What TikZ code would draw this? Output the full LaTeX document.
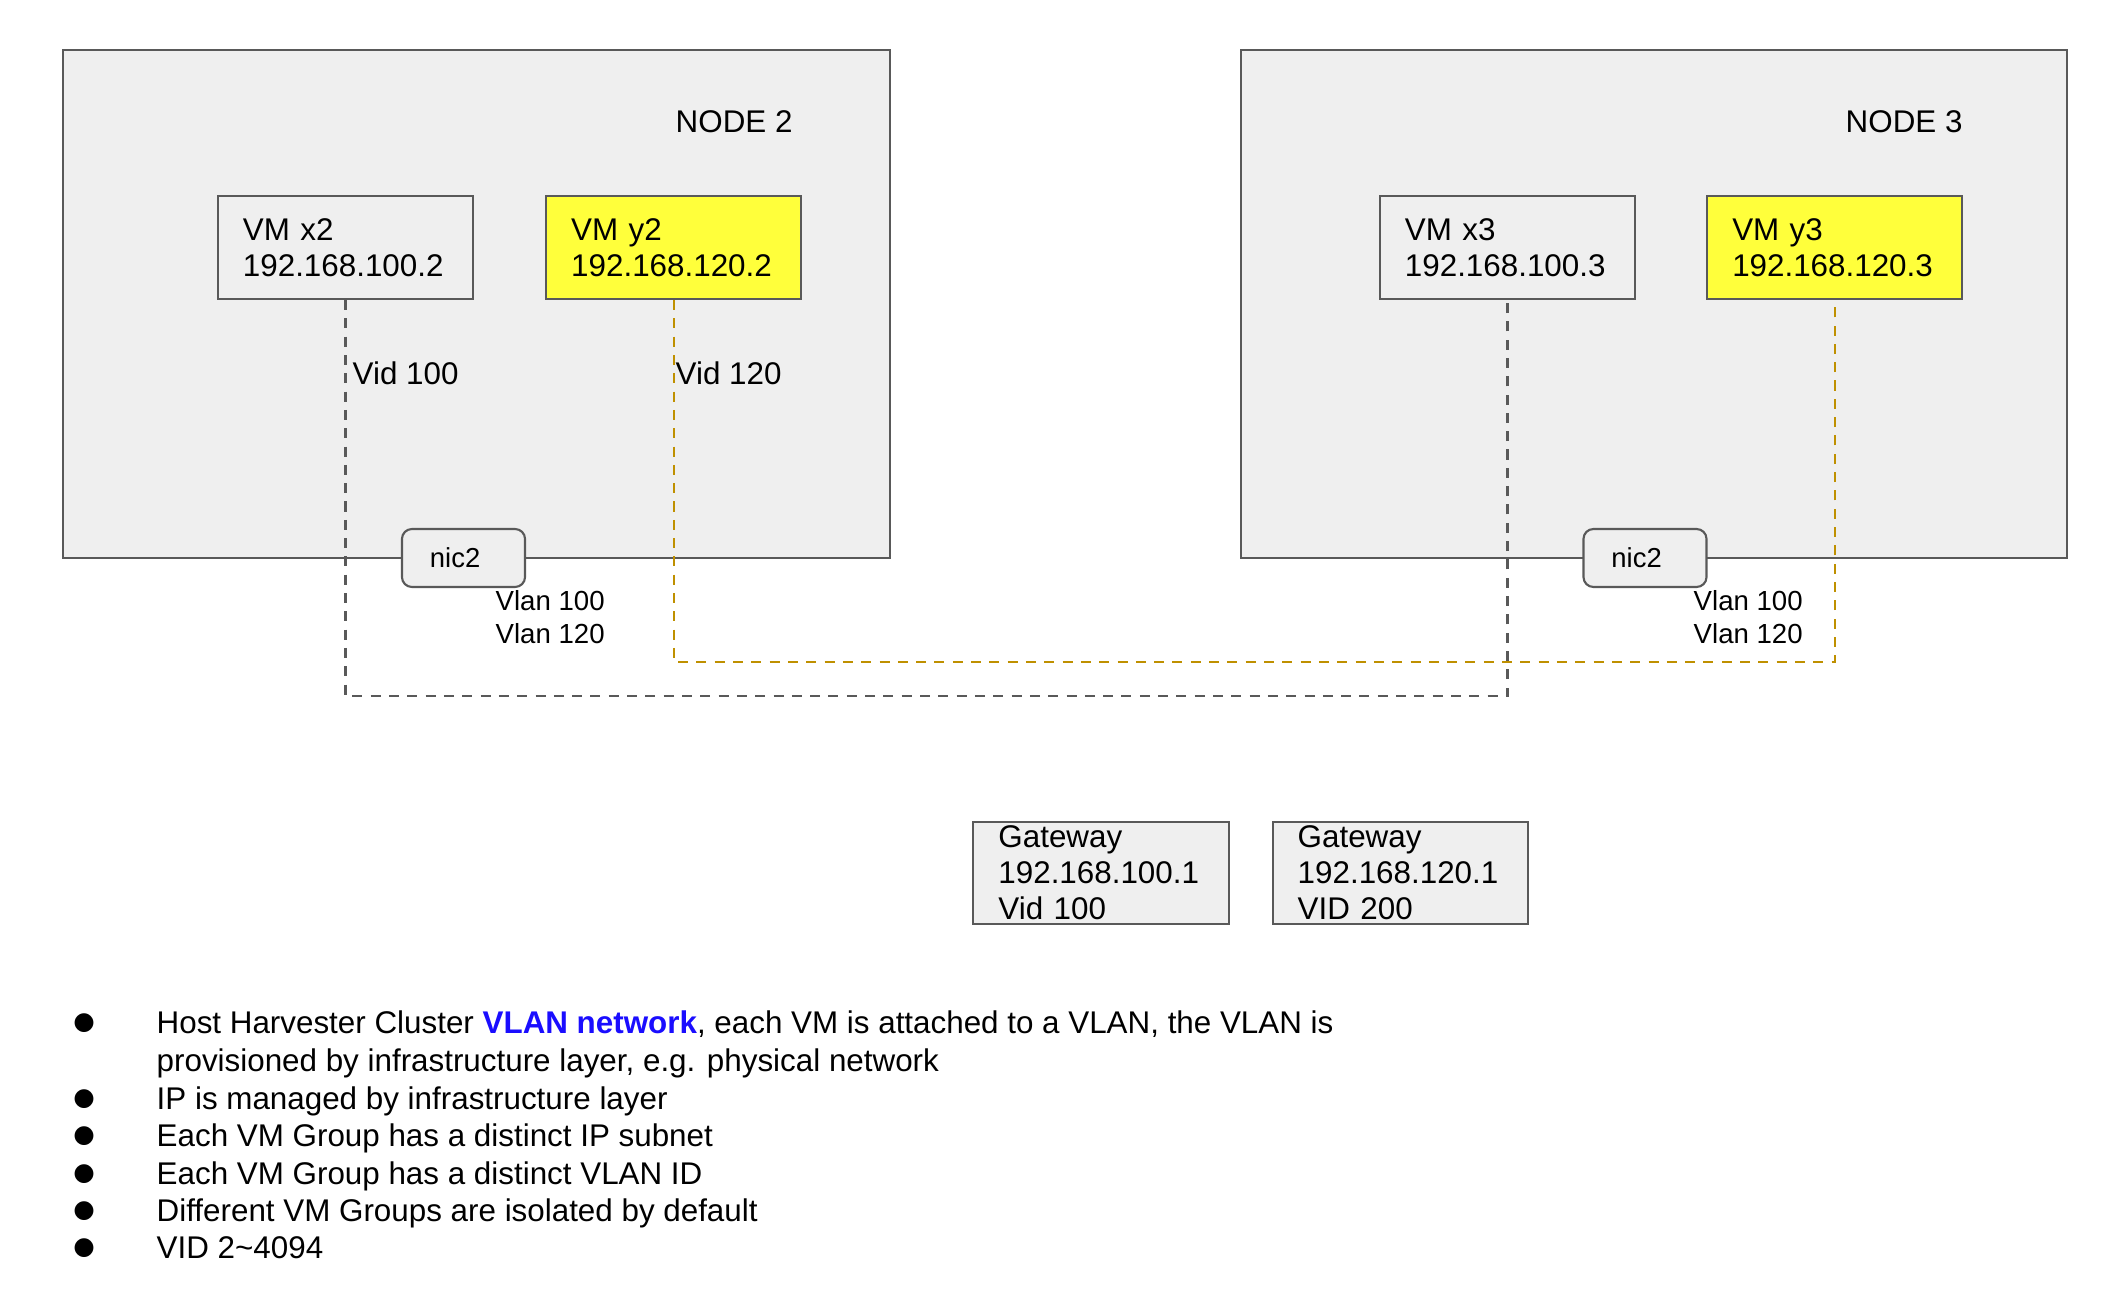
\documentclass[tikz,border=0pt]{standalone}
\usepackage{fontspec}
\setmainfont{Liberation Sans}
\newfontfamily\dotfont{DejaVu Sans}
\usetikzlibrary{positioning}

\definecolor{hostgray}{HTML}{EFEFEF}
\definecolor{edgegray}{HTML}{595959}
\definecolor{vmyellow}{HTML}{FFFF3B}
\definecolor{vlangold}{HTML}{BF9000}
\definecolor{linkblue}{HTML}{1A0DFF}

\tikzset{
  host/.style={draw=edgegray, fill=hostgray, line width=0.6pt,
    minimum width=8.26cm, minimum height=5.08cm},
  vmbox/.style={draw=edgegray, fill=hostgray, line width=0.6pt,
    minimum width=2.55cm, minimum height=1.03cm, inner xsep=0.25cm, inner ysep=0pt,
    text width=2.05cm, align=left, font=\fontsize{8.92pt}{10.24pt}\selectfont},
  vmyel/.style={vmbox, fill=vmyellow},
  nicbox/.style={draw=edgegray, fill=hostgray, line width=0.6pt, rounded corners=0.1cm,
    minimum width=1.23cm, minimum height=0.58cm, inner xsep=0.28cm, inner ysep=0pt,
    text width=0.67cm, align=left, font=\fontsize{7.8pt}{9.25pt}\selectfont},
  lbl/.style={inner sep=0pt, font=\fontsize{8.92pt}{10.24pt}\selectfont},
  vlantext/.style={inner sep=0pt, align=left, font=\fontsize{7.85pt}{9.25pt}\selectfont},
  vid100/.style={draw=edgegray, line width=0.6pt, dash pattern=on 0.1cm off 0.083cm},
  vid120/.style={vid100, draw=vlangold},
  itemline/.style={lbl, anchor=base west},
  bulletdot/.style={inner sep=0pt, font=\dotfont\fontsize{7pt}{7pt}\selectfont}
}

\begin{document}
\begin{tikzpicture}[x=0.01cm, y=-0.01cm]
\useasboundingbox (0,0) rectangle (2126,1294);

% hosts
\node[host] (node2) at (476.5,304) {};
\node[host] (node3) at (1654,304) {};
\node[lbl, anchor=west] (name2) at (675,122) {NODE 2};
\node[lbl, anchor=west] (name3) at (1845,122) {NODE 3};

% vms
\node[vmbox] (vmx2) at (345.5,247.5) {VM x2\\192.168.100.2};
\node[vmyel, right=0.71cm of vmx2] (vmy2) {VM y2\\192.168.120.2};
\node[vmbox] (vmx3) at (1507.5,247.5) {VM x3\\192.168.100.3};
\node[vmyel, right=0.70cm of vmx3] (vmy3) {VM y3\\192.168.120.3};

\node[lbl, anchor=west] (vid2a) at (352,373) {Vid 100};
\node[lbl, anchor=west] (vid2b) at (675,373) {Vid 120};

% vlan links
\coordinate (low100) at (0,696);
\coordinate (low120) at (0,662);
\draw[vid100] (vmx2.south) -- (vmx2.south |- low100) -- (vmx3.south |- low100) -- (vmx3.south);
\draw[vid120] (vmy2.south) -- (vmy2.south |- low120) -- (vmy3.south |- low120) -- (vmy3.south);

% nics
\node[nicbox] (nic2a) at (463.5,558) {nic2};
\node[nicbox] (nic2b) at (1645,558) {nic2};
\node[vlantext, anchor=west] (vlan2) at (495,617) {Vlan 100\\Vlan 120};
\node[vlantext, anchor=west] (vlan3) at (1693,617) {Vlan 100\\Vlan 120};

% gateways
\node[vmbox, minimum height=1.02cm] (gw100) at (1101,873) {Gateway\\192.168.100.1\\Vid 100};
\node[vmbox, minimum height=1.02cm, right=0.42cm of gw100] (gw120) {Gateway\\192.168.120.1\\VID 200};

% notes
\node[bulletdot] (b1) at (84,1023) {●};
\node[bulletdot] (b2) at (84,1099) {●};
\node[bulletdot] (b3) at (84,1136) {●};
\node[bulletdot] (b4) at (84,1174) {●};
\node[bulletdot] (b5) at (84,1211) {●};
\node[bulletdot] (b6) at (84,1248) {●};
\node[itemline] (t1) at (156,1033) {Host Harvester Cluster \textcolor{linkblue}{\bfseries VLAN network}, each VM is attached to a VLAN, the VLAN is};
\node[itemline] (t1b) at (156,1071) {provisioned by infrastructure layer, e.g. physical network};
\node[itemline] (t2) at (156,1109) {IP is managed by infrastructure layer};
\node[itemline] (t3) at (156,1146) {Each VM Group has a distinct IP subnet};
\node[itemline] (t4) at (156,1184) {Each VM Group has a distinct VLAN ID};
\node[itemline] (t5) at (156,1221) {Different VM Groups are isolated by default};
\node[itemline] (t6) at (156,1258) {VID 2\textasciitilde4094};
\end{tikzpicture}
\end{document}
